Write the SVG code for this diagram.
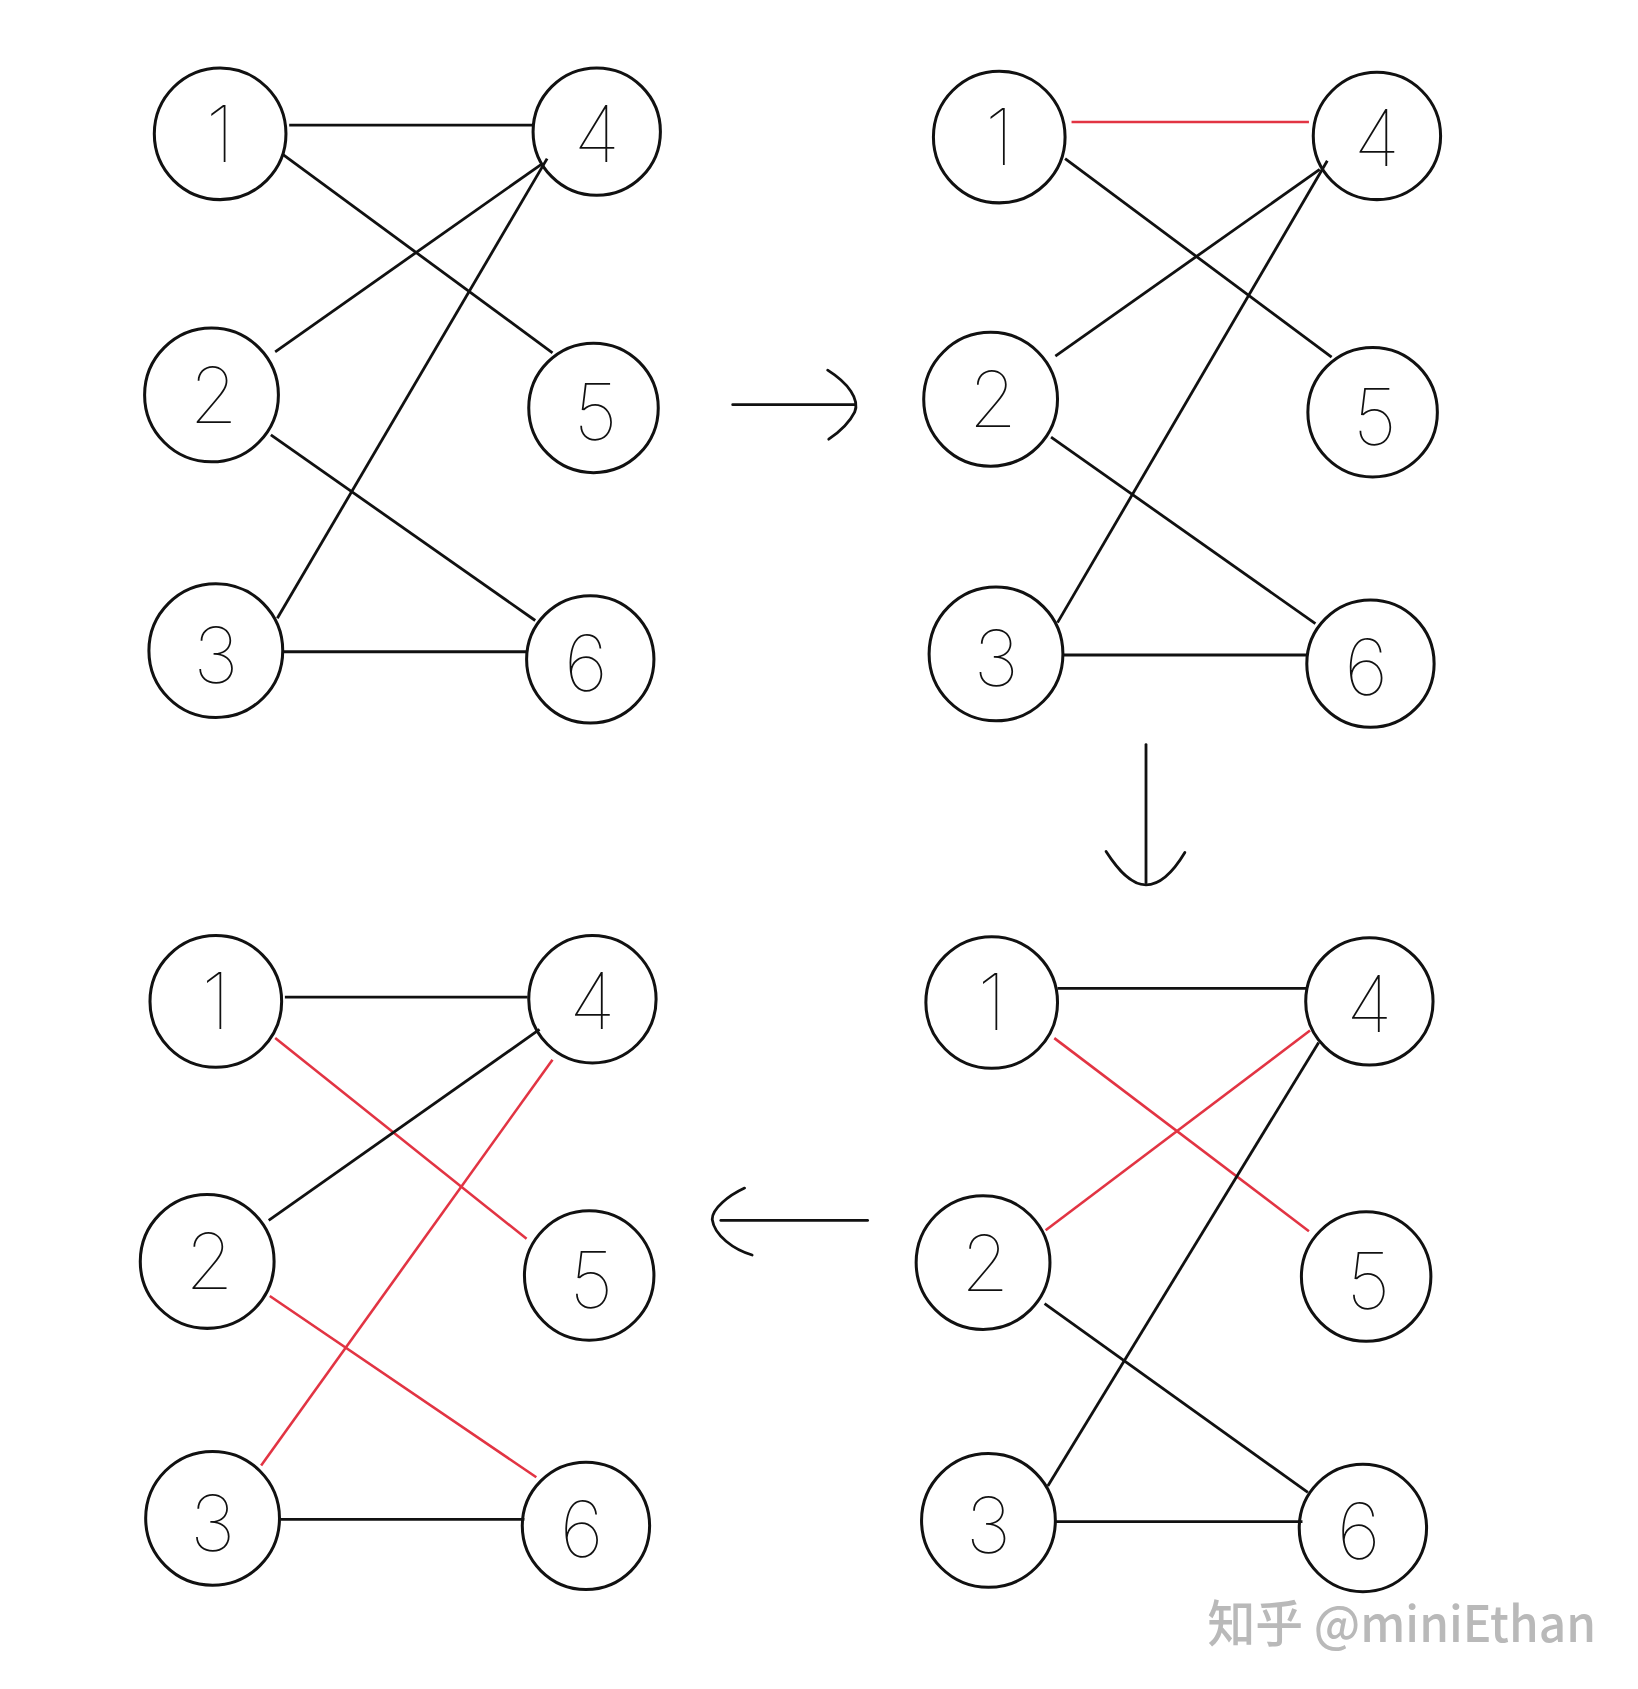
<svg xmlns="http://www.w3.org/2000/svg" width="1638" height="1689" viewBox="0 0 1638 1689">
<style>
.n{fill:none;stroke:#111;stroke-width:2.8}
.d{font-family:Inter,"Open Sans","Liberation Sans",sans-serif;font-weight:100;font-size:72px;fill:#111;text-anchor:middle;dominant-baseline:central}
.e{stroke:#111;stroke-width:2.6;fill:none}
.r{stroke:#e23443;stroke-width:2.4;fill:none}
.a{stroke:#111;stroke-width:2.6;fill:none;stroke-linecap:round}
</style>
<rect width="1638" height="1689" fill="#fff"/>
<g transform="scale(1.0791)">
<g id="connectors">
<!-- top-left -->
<line class="e" x1="268" y1="116" x2="495" y2="116"/>
<line class="e" x1="262" y1="143" x2="512" y2="327"/>
<line class="e" x1="255" y1="326" x2="502" y2="152"/>
<line class="e" x1="257" y1="573" x2="507" y2="147"/>
<line class="e" x1="251" y1="403" x2="496" y2="575"/>
<line class="e" x1="262" y1="604" x2="489" y2="604"/>
<!-- top-right -->
<line class="r" x1="993" y1="113" x2="1213" y2="113"/>
<line class="e" x1="987" y1="147" x2="1234" y2="331"/>
<line class="e" x1="978" y1="330" x2="1223" y2="157"/>
<line class="e" x1="980" y1="577" x2="1230" y2="149"/>
<line class="e" x1="974" y1="405" x2="1219" y2="578"/>
<line class="e" x1="985" y1="607" x2="1211" y2="607"/>
<!-- bottom-right -->
<line class="e" x1="980" y1="916" x2="1212" y2="916"/>
<line class="r" x1="977" y1="962" x2="1213" y2="1141"/>
<line class="r" x1="969" y1="1140" x2="1214" y2="955"/>
<line class="e" x1="971" y1="1377" x2="1222" y2="966"/>
<line class="e" x1="968" y1="1208" x2="1212" y2="1383"/>
<line class="e" x1="978" y1="1410" x2="1207" y2="1410"/>
<!-- bottom-left -->
<line class="e" x1="264" y1="924" x2="489" y2="924"/>
<line class="r" x1="255" y1="962" x2="488" y2="1148"/>
<line class="e" x1="249" y1="1131" x2="500" y2="954"/>
<line class="r" x1="242" y1="1358" x2="512" y2="982"/>
<line class="r" x1="250" y1="1201" x2="497" y2="1369"/>
<line class="e" x1="260" y1="1408" x2="486" y2="1408"/>
<!-- step arrows -->
<path class="a" d="M679,375 H792"/>
<path class="a" d="M767,343 C786,355 797,370 792,382 C787,392 777,401 768,407"/>
<path class="a" d="M1062,690 V818"/>
<path class="a" d="M1025,789 C1036,806 1048,820 1062,820 C1076,820 1089,805 1098,790"/>
<path class="a" d="M804,1131 H668"/>
<path class="a" d="M690,1101 C675,1108 660,1120 660,1130 C662,1145 680,1158 697,1163"/>
</g>
<g id="tl-1"><circle class="n" cx="204" cy="124" r="61"/><text class="d" x="204" y="124">1</text></g>
<g id="tl-4"><circle class="n" cx="553" cy="122" r="59"/><text class="d" x="553" y="124">4</text></g>
<g id="tl-2"><circle class="n" cx="196" cy="366" r="62"/><text class="d" x="198" y="366">2</text></g>
<g id="tl-5"><circle class="n" cx="550" cy="378" r="60"/><text class="d" x="552" y="382">5</text></g>
<g id="tl-3"><circle class="n" cx="200" cy="603" r="62"/><text class="d" x="200" y="607">3</text></g>
<g id="tl-6"><circle class="n" cx="547" cy="611" r="59"/><text class="d" x="543" y="614">6</text></g>

<g id="tr-1"><circle class="n" cx="926" cy="127" r="61"/><text class="d" x="926" y="127">1</text></g>
<g id="tr-4"><circle class="n" cx="1276" cy="126" r="59"/><text class="d" x="1276" y="128">4</text></g>
<g id="tr-2"><circle class="n" cx="918" cy="370" r="62"/><text class="d" x="920" y="370">2</text></g>
<g id="tr-5"><circle class="n" cx="1272" cy="382" r="60"/><text class="d" x="1274" y="386">5</text></g>
<g id="tr-3"><circle class="n" cx="923" cy="606" r="62"/><text class="d" x="923" y="610">3</text></g>
<g id="tr-6"><circle class="n" cx="1270" cy="615" r="59"/><text class="d" x="1266" y="618">6</text></g>

<g id="br-1"><circle class="n" cx="919" cy="929" r="61"/><text class="d" x="919" y="929">1</text></g>
<g id="br-4"><circle class="n" cx="1269" cy="928" r="59"/><text class="d" x="1269" y="930">4</text></g>
<g id="br-2"><circle class="n" cx="911" cy="1170" r="62"/><text class="d" x="913" y="1170">2</text></g>
<g id="br-5"><circle class="n" cx="1266" cy="1183" r="60"/><text class="d" x="1268" y="1187">5</text></g>
<g id="br-3"><circle class="n" cx="916" cy="1409" r="62"/><text class="d" x="916" y="1413">3</text></g>
<g id="br-6"><circle class="n" cx="1263" cy="1416" r="59"/><text class="d" x="1259" y="1419">6</text></g>

<g id="bl-1"><circle class="n" cx="200" cy="928" r="61"/><text class="d" x="200" y="928">1</text></g>
<g id="bl-4"><circle class="n" cx="549" cy="926" r="59"/><text class="d" x="549" y="928">4</text></g>
<g id="bl-2"><circle class="n" cx="192" cy="1169" r="62"/><text class="d" x="194" y="1169">2</text></g>
<g id="bl-5"><circle class="n" cx="546" cy="1182" r="60"/><text class="d" x="548" y="1186">5</text></g>
<g id="bl-3"><circle class="n" cx="197" cy="1407" r="62"/><text class="d" x="197" y="1411">3</text></g>
<g id="bl-6"><circle class="n" cx="543" cy="1414" r="59"/><text class="d" x="539" y="1417">6</text></g>

<text id="watermark" x="1119" y="1522" font-family="'Noto Sans CJK SC','Liberation Sans',sans-serif" font-size="46" font-weight="500" fill="#b9b9b9" textLength="360" lengthAdjust="spacingAndGlyphs">知乎 @miniEthan</text>
</g>
</svg>
